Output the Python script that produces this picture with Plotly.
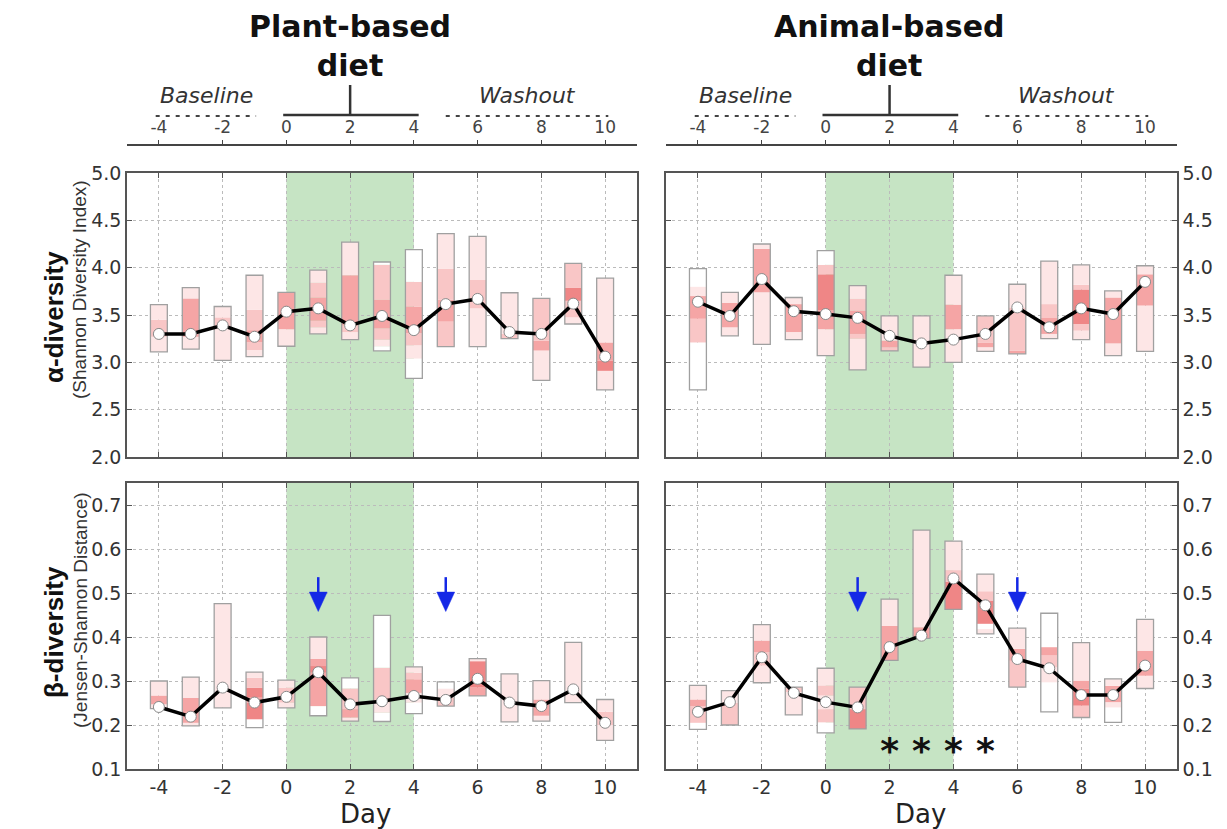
import plotly.graph_objects as go

# ---------------------------------------------------------------- data
days = list(range(-4, 11))
diet_window = (0, 4)

# alpha diversity (Shannon index), plant-based arm
alpha_plant_median = [3.30, 3.30, 3.39, 3.27, 3.535, 3.57, 3.39, 3.49, 3.34,
                      3.615, 3.67, 3.32, 3.30, 3.62, 3.06]
alpha_plant_edges = [
    [3.11, 3.27, 3.45, 3.61],
    [3.14, 3.27, 3.675, 3.79],
    [3.02, 3.36, 3.475, 3.59],
    [3.06, 3.13, 3.21, 3.34, 3.556, 3.92],
    [3.17, 3.35, 3.74],
    [3.30, 3.37, 3.44, 3.685, 3.84, 3.975],
    [3.24, 3.32, 3.39, 3.92, 4.27],
    [3.12, 3.17, 3.24, 3.36, 3.66, 4.03, 4.06],
    [2.83, 3.04, 3.18, 3.31, 3.59, 3.85, 4.19],
    [3.165, 3.43, 3.66, 3.99, 4.36],
    [3.165, 3.57, 3.87, 4.33],
    [3.25, 3.30, 3.735],
    [2.81, 3.125, 3.23, 3.675],
    [3.405, 3.475, 3.65, 3.79, 4.045],
    [2.71, 2.91, 3.02, 3.21, 3.89],
]
alpha_plant_shades = [
    [1, 2, 1], [1, 3, 1], [1, 2, 1], [1, 2, 3, 2, 1], [1, 3],
    [1, 2, 3, 2, 1], [1, 2, 3, 1], [0, 1, 2, 3, 2, 0], [0, 1, 2, 3, 2, 0],
    [2, 3, 2, 1], [1, 2, 1], [2, 1], [1, 3, 2], [1, 2, 4, 2], [1, 4, 3, 1],
]

# alpha diversity, animal-based arm
alpha_animal_median = [3.64, 3.49, 3.88, 3.54, 3.51, 3.47, 3.28, 3.20, 3.24,
                       3.30, 3.58, 3.37, 3.57, 3.51, 3.85]
alpha_animal_edges = [
    [2.71, 3.21, 3.46, 3.70, 3.80, 3.99],
    [3.28, 3.37, 3.63, 3.74],
    [3.19, 3.74, 4.20, 4.25],
    [3.24, 3.32, 3.615, 3.685],
    [3.07, 3.35, 3.55, 3.93, 4.03, 4.18],
    [2.92, 3.25, 3.30, 3.545, 3.67, 3.81],
    [3.12, 3.16, 3.23, 3.49],
    [2.95, 3.49],
    [3.00, 3.35, 3.61, 3.92],
    [3.115, 3.16, 3.21, 3.49],
    [3.09, 3.125, 3.58, 3.825],
    [3.25, 3.30, 3.475, 3.615, 4.07],
    [3.24, 3.335, 3.405, 3.77, 3.82, 4.03],
    [3.07, 3.20, 3.685, 3.755],
    [3.115, 3.60, 3.93, 4.02],
]
alpha_animal_shades = [
    [0, 2, 3, 1, 0], [1, 3, 1], [1, 3, 1], [1, 3, 1], [1, 3, 4, 2, 0],
    [1, 2, 3, 2, 1], [2, 3, 1], [1], [1, 3, 1], [1, 3, 2], [3, 2, 1],
    [1, 3, 2, 1], [1, 2, 4, 2, 1], [1, 3, 1], [1, 3, 1],
]

# beta diversity (Jensen-Shannon distance), plant-based arm
beta_plant_median = [0.241, 0.219, 0.285, 0.251, 0.264, 0.320, 0.247, 0.254,
                     0.266, 0.257, 0.305, 0.251, 0.243, 0.281, 0.205]
beta_plant_edges = [
    [0.237, 0.247, 0.267, 0.300],
    [0.198, 0.205, 0.262, 0.309],
    [0.239, 0.476],
    [0.194, 0.213, 0.251, 0.262, 0.285, 0.307, 0.320],
    [0.239, 0.251, 0.285, 0.302],
    [0.221, 0.243, 0.319, 0.334, 0.350, 0.400],
    [0.209, 0.217, 0.236, 0.283, 0.307],
    [0.208, 0.228, 0.251, 0.330, 0.449],
    [0.226, 0.251, 0.273, 0.304, 0.319, 0.332],
    [0.243, 0.262, 0.283, 0.298],
    [0.266, 0.285, 0.345, 0.351],
    [0.207, 0.316],
    [0.209, 0.221, 0.258, 0.301],
    [0.251, 0.388],
    [0.165, 0.200, 0.230, 0.258],
]
beta_plant_shades = [
    [1, 3, 1], [1, 3, 1], [1], [0, 4, 3, 4, 2, 1], [1, 2, 1],
    [0, 3, 4, 3, 1], [1, 3, 2, 0], [0, 1, 2, 0], [0, 1, 3, 2, 1], [2, 1, 0],
    [3, 4, 1], [1], [1, 3, 1], [1], [1, 2, 1],
]

# beta diversity, animal-based arm
beta_animal_median = [0.230, 0.252, 0.354, 0.273, 0.252, 0.240, 0.377, 0.403,
                      0.533, 0.472, 0.350, 0.329, 0.268, 0.268, 0.335]
beta_animal_edges = [
    [0.190, 0.205, 0.243, 0.258, 0.290],
    [0.200, 0.250, 0.278],
    [0.296, 0.335, 0.365, 0.392, 0.428],
    [0.223, 0.275, 0.286],
    [0.182, 0.206, 0.236, 0.267, 0.290, 0.329],
    [0.191, 0.236, 0.286],
    [0.347, 0.425, 0.486],
    [0.397, 0.422, 0.643],
    [0.463, 0.525, 0.552, 0.618],
    [0.407, 0.418, 0.430, 0.483, 0.504, 0.543],
    [0.286, 0.346, 0.373, 0.420],
    [0.230, 0.297, 0.331, 0.358, 0.377, 0.454],
    [0.217, 0.244, 0.282, 0.301, 0.387],
    [0.206, 0.240, 0.252, 0.289, 0.305],
    [0.283, 0.312, 0.369, 0.440],
]
beta_animal_shades = [
    [0, 2, 3, 1], [2, 1], [1, 2, 3, 1], [1, 2], [0, 2, 1, 2, 1],
    [4, 2], [3, 1], [3, 1], [4, 2, 1], [1, 0, 4, 2, 1],
    [2, 3, 1], [0, 1, 2, 3, 0], [2, 4, 3, 1], [0, 1, 3, 1], [1, 3, 1],
]

arrow_days_plant = [1, 5]
arrow_days_animal = [1, 6]
star_days_animal = [2, 3, 4, 5]

day_ticks = list(range(-4, 11, 2))
day_tick_text = [str(d) for d in day_ticks]
alpha_ticks = [2.0, 2.5, 3.0, 3.5, 4.0, 4.5, 5.0]
beta_ticks = [0.1, 0.2, 0.3, 0.4, 0.5, 0.6, 0.7]

# ---------------------------------------------------------------- style
SHADES = ["#ffffff", "#fde6e6", "#f9c6c6", "#f5a5a5", "#ef8686"]
BOX_W = 0.53
GREEN = "#c6e4c4"
BLUE = "#1428e6"
AXIS_C = "#555555"
DEJAVU = "DejaVu Sans, Verdana, sans-serif"
SANS = "Liberation Sans, Arial, Helvetica, sans-serif"
TICK_FONT = dict(family=DEJAVU, size=19, color="#333333")

X_LEFT = [127 / 1227, 637 / 1227]
X_RIGHT = [666 / 1227, 1177 / 1227]
Y_TOP = [1 - 457 / 829, 1 - 173 / 829]
Y_BOT = [1 - 769 / 829, 1 - 483 / 829]
HEAD_LINE = 1 - 146 / 829

fig = go.Figure()


def add_panel(median, edges, shades, xa, ya):
    xs, bases, heights, colors = [], [], [], []
    for d, e, s in zip(days, edges, shades):
        for i, lvl in enumerate(s):
            xs.append(d)
            bases.append(e[i])
            heights.append(e[i + 1] - e[i])
            colors.append(SHADES[lvl])
    fig.add_trace(go.Bar(x=xs, y=heights, base=bases, width=BOX_W,
                         marker=dict(color=colors, line=dict(width=0)),
                         xaxis=xa, yaxis=ya, hoverinfo="skip"))
    lo = [e[0] for e in edges]
    hi = [e[-1] for e in edges]
    fig.add_trace(go.Bar(x=days, y=[h - l for h, l in zip(hi, lo)], base=lo,
                         width=BOX_W,
                         marker=dict(color="rgba(0,0,0,0)",
                                     line=dict(color="#a0a0a0", width=1.3)),
                         xaxis=xa, yaxis=ya, hoverinfo="skip"))
    fig.add_trace(go.Scatter(x=days, y=median, mode="lines+markers",
                             line=dict(color="black", width=3.5),
                             marker=dict(size=11, color="white",
                                         line=dict(color="#8a8a8a", width=1)),
                             xaxis=xa, yaxis=ya, hoverinfo="skip"))


def add_arrows(arrow_days, xa, ya):
    for d in arrow_days:
        fig.add_trace(go.Scatter(x=[d, d], y=[0.536, 0.500], mode="lines",
                                 line=dict(color=BLUE, width=2.5),
                                 xaxis=xa, yaxis=ya, hoverinfo="skip"))
        fig.add_trace(go.Scatter(x=[d - 0.28, d + 0.28, d, d - 0.28],
                                 y=[0.502, 0.502, 0.458, 0.502],
                                 mode="lines", fill="toself", fillcolor=BLUE,
                                 line=dict(color=BLUE, width=0.5),
                                 xaxis=xa, yaxis=ya, hoverinfo="skip"))


add_panel(alpha_plant_median, alpha_plant_edges, alpha_plant_shades, "x", "y")
add_panel(alpha_animal_median, alpha_animal_edges, alpha_animal_shades, "x2", "y2")
add_panel(beta_plant_median, beta_plant_edges, beta_plant_shades, "x3", "y3")
add_panel(beta_animal_median, beta_animal_edges, beta_animal_shades, "x4", "y4")
add_arrows(arrow_days_plant, "x3", "y3")
add_arrows(arrow_days_animal, "x4", "y4")

# significance stars under the animal-based diet days
fig.add_trace(go.Scatter(x=star_days_animal, y=[0.133] * len(star_days_animal),
                         mode="text", text=["*"] * len(star_days_animal),
                         textfont=dict(family=DEJAVU, size=36, color="#111",
                                       weight="bold"),
                         xaxis="x4", yaxis="y4", hoverinfo="skip"))

# ---------------------------------------------------------------- axes
common = dict(showgrid=True, gridcolor="#bbbbbb", griddash="dot", gridwidth=1,
              zeroline=False, showline=True, linecolor=AXIS_C, linewidth=1.5,
              mirror="ticks", ticks="inside", ticklen=5, tickcolor=AXIS_C,
              tickfont=TICK_FONT, automargin=False)
xcommon = dict(common, range=[-5, 11], tickvals=day_ticks, ticktext=day_tick_text)
alpha_text = [f"{v:.1f}" for v in alpha_ticks]
beta_text = [f"{v:.1f}" for v in beta_ticks]

fig.update_layout(
    xaxis=dict(xcommon, domain=X_LEFT, anchor="y", showticklabels=False),
    xaxis2=dict(xcommon, domain=X_RIGHT, anchor="y2", showticklabels=False),
    xaxis3=dict(xcommon, domain=X_LEFT, anchor="y3"),
    xaxis4=dict(xcommon, domain=X_RIGHT, anchor="y4"),
    yaxis=dict(common, domain=Y_TOP, anchor="x", range=[2, 5],
               tickvals=alpha_ticks, ticktext=alpha_text),
    yaxis2=dict(common, domain=Y_TOP, anchor="x2", range=[2, 5], side="right",
                tickvals=alpha_ticks, ticktext=alpha_text),
    yaxis3=dict(common, domain=Y_BOT, anchor="x3", range=[0.1, 0.75],
                tickvals=beta_ticks, ticktext=beta_text),
    yaxis4=dict(common, domain=Y_BOT, anchor="x4", range=[0.1, 0.75], side="right",
                tickvals=beta_ticks, ticktext=beta_text),
)

# timeline header axes above each column
head = dict(range=[-5, 11], tickvals=day_ticks, ticktext=day_tick_text,
            side="top", showgrid=False, zeroline=False, showline=True,
            linecolor="#444", linewidth=1.5, ticks="outside", ticklen=4,
            tickcolor="#444", automargin=False,
            tickfont=dict(family=DEJAVU, size=17, color="#444"))
fig.update_layout(
    xaxis5=dict(head, domain=X_LEFT, anchor="y5"),
    xaxis6=dict(head, domain=X_RIGHT, anchor="y6"),
    yaxis5=dict(domain=[HEAD_LINE - 0.02, HEAD_LINE], visible=False, anchor="x5",
                range=[0, 1], automargin=False),
    yaxis6=dict(domain=[HEAD_LINE - 0.02, HEAD_LINE], visible=False, anchor="x6",
                range=[0, 1], automargin=False),
)

shapes = []
annotations = []

for xa, ya in [("x", "y"), ("x2", "y2"), ("x3", "y3"), ("x4", "y4")]:
    shapes.append(dict(type="rect", xref=xa, yref=f"{ya} domain",
                       x0=diet_window[0], x1=diet_window[1], y0=0, y1=1,
                       fillcolor=GREEN, line=dict(width=0), layer="below"))

dash_y = 1 - 116 / 829
bar_y = 1 - 115 / 829
stem_top = 1 - 85 / 829
label_y = 1 - 95 / 829
for hx, title in [("x5", "Plant-based<br>diet"), ("x6", "Animal-based<br>diet")]:
    shapes.append(dict(type="line", xref=hx, yref="paper", x0=-4.1, x1=-0.95,
                       y0=dash_y, y1=dash_y,
                       line=dict(color="#444", width=2, dash="4px,6px")))
    shapes.append(dict(type="line", xref=hx, yref="paper", x0=5.0, x1=10.1,
                       y0=dash_y, y1=dash_y,
                       line=dict(color="#444", width=2, dash="4px,6px")))
    shapes.append(dict(type="line", xref=hx, yref="paper", x0=-0.1, x1=4.15,
                       y0=bar_y, y1=bar_y, line=dict(color="#333", width=2.5)))
    shapes.append(dict(type="line", xref=hx, yref="paper", x0=2, x1=2,
                       y0=bar_y, y1=stem_top, line=dict(color="#333", width=2.5)))
    annotations.append(dict(xref=hx, yref="paper", x=2, y=1 - 46 / 829,
                            text=title, showarrow=False,
                            xanchor="center", yanchor="middle",
                            font=dict(family=DEJAVU, size=30, color="#111",
                                      weight="bold")))
    annotations.append(dict(xref=hx, yref="paper", x=-2.5, y=label_y,
                            text="<i>Baseline</i>", showarrow=False,
                            xanchor="center", yanchor="middle",
                            font=dict(family=DEJAVU, size=22, color="#333")))
    annotations.append(dict(xref=hx, yref="paper", x=7.55, y=label_y,
                            text="<i>Washout</i>", showarrow=False,
                            xanchor="center", yanchor="middle",
                            font=dict(family=DEJAVU, size=22, color="#333")))

# row titles
for ytxt, sub, yc, ys in [("α-diversity", "(Shannon Diversity Index)", 317, 290),
                          ("β-diversity", "(Jensen-Shannon Distance)", 632, 610)]:
    annotations.append(dict(xref="paper", yref="paper", x=54 / 1227, y=1 - yc / 829,
                            text=ytxt, textangle=-90, showarrow=False,
                            xanchor="center", yanchor="middle",
                            font=dict(family=SANS, size=26, color="#111",
                                      weight="bold")))
    annotations.append(dict(xref="paper", yref="paper", x=80 / 1227, y=1 - ys / 829,
                            text=sub, textangle=-90, showarrow=False,
                            xanchor="center", yanchor="middle",
                            font=dict(family=SANS, size=19, color="#333")))

for xc in (365, 920):
    annotations.append(dict(xref="paper", yref="paper", x=xc / 1227, y=1 - 814 / 829,
                            text="Day", showarrow=False,
                            xanchor="center", yanchor="middle",
                            font=dict(family=DEJAVU, size=26, color="#222")))

fig.update_layout(
    width=1227, height=829, margin=dict(l=0, r=0, t=0, b=0, autoexpand=False),
    paper_bgcolor="white", plot_bgcolor="white",
    barmode="overlay", showlegend=False,
    shapes=shapes, annotations=annotations,
)

fig.write_html("out.html")
